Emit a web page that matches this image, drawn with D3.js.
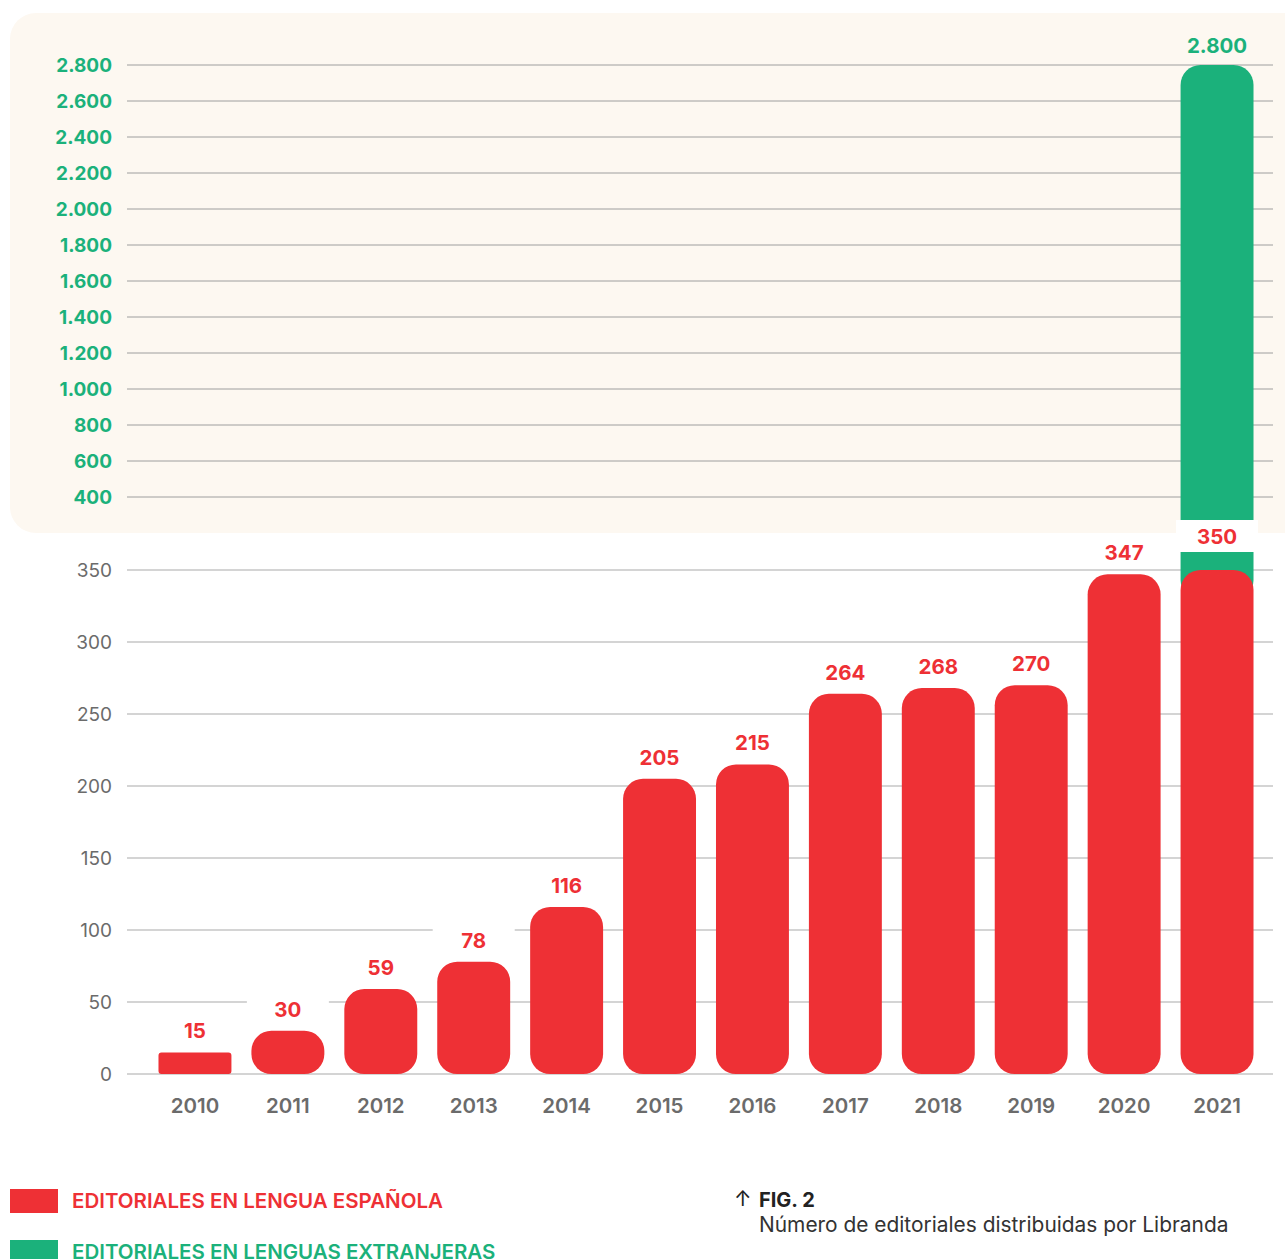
<!DOCTYPE html>
<html><head><meta charset="utf-8">
<script src="https://cdn.jsdelivr.net/npm/d3@7"></script>
<style>body{margin:0;background:#fff}svg{display:block}text{font-family:Inter,"Open Sans",sans-serif}</style>
</head><body>
<script>
const years = ["2010","2011","2012","2013","2014","2015","2016","2017","2018","2019","2020","2021"];
const spanish = [15,30,59,78,116,205,215,264,268,270,347,350];
const foreign = [null,null,null,null,null,null,null,null,null,null,null,2800];
const topTicks = [400,600,800,1000,1200,1400,1600,1800,2000,2200,2400,2600,2800];
const bottomTicks = [0,50,100,150,200,250,300,350];
const legendLabels = ["EDITORIALES EN LENGUA ESPAÑOLA","EDITORIALES EN LENGUAS EXTRANJERAS"];
const figTitle = "FIG. 2";
const figSubtitle = "Número de editoriales distribuidas por Libranda";

const RED = "#ee3035", GREEN = "#1bb17b", BEIGE = "#fdf8f1";
const W = 1285, H = 1259;
const svg = d3.select("body").append("svg").attr("width", W).attr("height", H);

const x = d3.scaleBand().domain(years).range([148.5, 1263.5]).paddingInner(0.215).paddingOuter(0.1075);
const yTop = d3.scaleLinear().domain([400, 2800]).range([497, 65]);
const yBot = d3.scaleLinear().domain([0, 350]).range([1074, 570]);
const fmt = d => d3.format(",")(d).replace(/,/g, ".");

// top panel background
svg.append("rect").attr("x", 10).attr("y", 13).attr("width", 1300).attr("height", 520).attr("rx", 26).attr("fill", BEIGE);

// top grid
const gTop = svg.append("g");
gTop.selectAll("line").data(topTicks).join("line")
  .attr("x1", 127).attr("x2", 1273).attr("y1", d => yTop(d)).attr("y2", d => yTop(d))
  .attr("stroke", "#9e9e9e").attr("stroke-width", 1);
gTop.selectAll("text").data(topTicks).join("text")
  .attr("x", 112).attr("y", d => yTop(d)).attr("dy", "0.35em").attr("text-anchor", "end")
  .attr("fill", GREEN).attr("font-weight", 700).attr("font-size", 19).text(fmt);

// bottom grid
const gBot = svg.append("g");
gBot.selectAll("line").data(bottomTicks).join("line")
  .attr("x1", 127).attr("x2", 1273).attr("y1", d => yBot(d)).attr("y2", d => yBot(d))
  .attr("stroke", "#c6c6c6").attr("stroke-width", 1.5);
gBot.selectAll("text").data(bottomTicks).join("text")
  .attr("x", 112).attr("y", d => yBot(d)).attr("dy", "0.35em").attr("text-anchor", "end")
  .attr("fill", "#6b6b6b").attr("font-weight", 400).attr("font-size", 19).text(fmt);

// rounded rect path
function rr(x0, y0, w, h, r) {
  r = Math.min(r, h / 2, w / 2);
  const p = d3.path();
  p.moveTo(x0 + r, y0); p.lineTo(x0 + w - r, y0); p.arcTo(x0 + w, y0, x0 + w, y0 + r, r);
  p.lineTo(x0 + w, y0 + h - r); p.arcTo(x0 + w, y0 + h, x0 + w - r, y0 + h, r);
  p.lineTo(x0 + r, y0 + h); p.arcTo(x0, y0 + h, x0, y0 + h - r, r);
  p.lineTo(x0, y0 + r); p.arcTo(x0, y0, x0 + r, y0, r); p.closePath();
  return p.toString();
}

// green bar (foreign languages) – spans both panels
const fData = years.map((y, i) => ({year: y, v: foreign[i], s: spanish[i]})).filter(d => d.v != null);
svg.selectAll(".gbar").data(fData).join("path").attr("class", "gbar")
  .attr("d", d => rr(x(d.year), yTop(d.v), x.bandwidth(), yBot(d.s) + 30 - yTop(d.v), 20))
  .attr("fill", GREEN);

// label boxes (white) to mask gridlines; stacked bar gets a higher label
const sData = years.map((y, i) => ({year: y, v: spanish[i], stacked: foreign[i] != null}));
const lift = d => d.stacked ? 12 : 0;
svg.selectAll(".lbox").data(sData).join("rect").attr("class", "lbox")
  .attr("x", d => x(d.year) + x.bandwidth() / 2 - 41).attr("width", 82)
  .attr("y", d => yBot(d.v) - 38 - lift(d)).attr("height", 32).attr("fill", "#fff");

// red bars
svg.selectAll(".rbar").data(sData).join("path").attr("class", "rbar")
  .attr("d", d => rr(x(d.year), yBot(d.v), x.bandwidth(), yBot(0) - yBot(d.v), d.v < 20 ? 3 : 20))
  .attr("fill", RED);

// red value labels
svg.selectAll(".rlab").data(sData).join("text").attr("class", "rlab")
  .attr("x", d => x(d.year) + x.bandwidth() / 2).attr("y", d => yBot(d.v) - 14 - lift(d))
  .attr("text-anchor", "middle").attr("fill", RED).attr("font-weight", 700).attr("font-size", 20.5)
  .text(d => fmt(d.v));

// green value label
svg.selectAll(".glab").data(fData).join("text").attr("class", "glab")
  .attr("x", d => x(d.year) + x.bandwidth() / 2).attr("y", d => yTop(d.v) - 12)
  .attr("text-anchor", "middle").attr("fill", GREEN).attr("font-weight", 700).attr("font-size", 20.5)
  .text(d => fmt(d.v));

// x axis labels
svg.selectAll(".xlab").data(years).join("text").attr("class", "xlab")
  .attr("x", d => x(d) + x.bandwidth() / 2).attr("y", 1113)
  .attr("text-anchor", "middle").attr("fill", "#6b6b6b").attr("font-weight", 600).attr("font-size", 20.5)
  .text(d => d);

// legend
const legColors = [RED, GREEN];
const leg = svg.selectAll(".leg").data(legendLabels).join("g").attr("class", "leg")
  .attr("transform", (d, i) => `translate(10,${1189 + i * 51})`);
leg.append("rect").attr("width", 48).attr("height", 24).attr("fill", (d, i) => legColors[i]);
leg.append("text").attr("x", 62).attr("y", 19).attr("fill", (d, i) => legColors[i])
  .attr("font-weight", 600).attr("font-size", 20.5).text(d => d);

// figure caption
svg.append("text").attr("x", 734).attr("y", 1206).attr("fill", "#222").attr("font-size", 21).text("↑");
svg.append("text").attr("x", 759).attr("y", 1207).attr("fill", "#222").attr("font-weight", 700).attr("font-size", 20).text(figTitle);
svg.append("text").attr("x", 759).attr("y", 1232).attr("fill", "#333").attr("font-size", 20.9).text(figSubtitle);
</script>
</body></html>
